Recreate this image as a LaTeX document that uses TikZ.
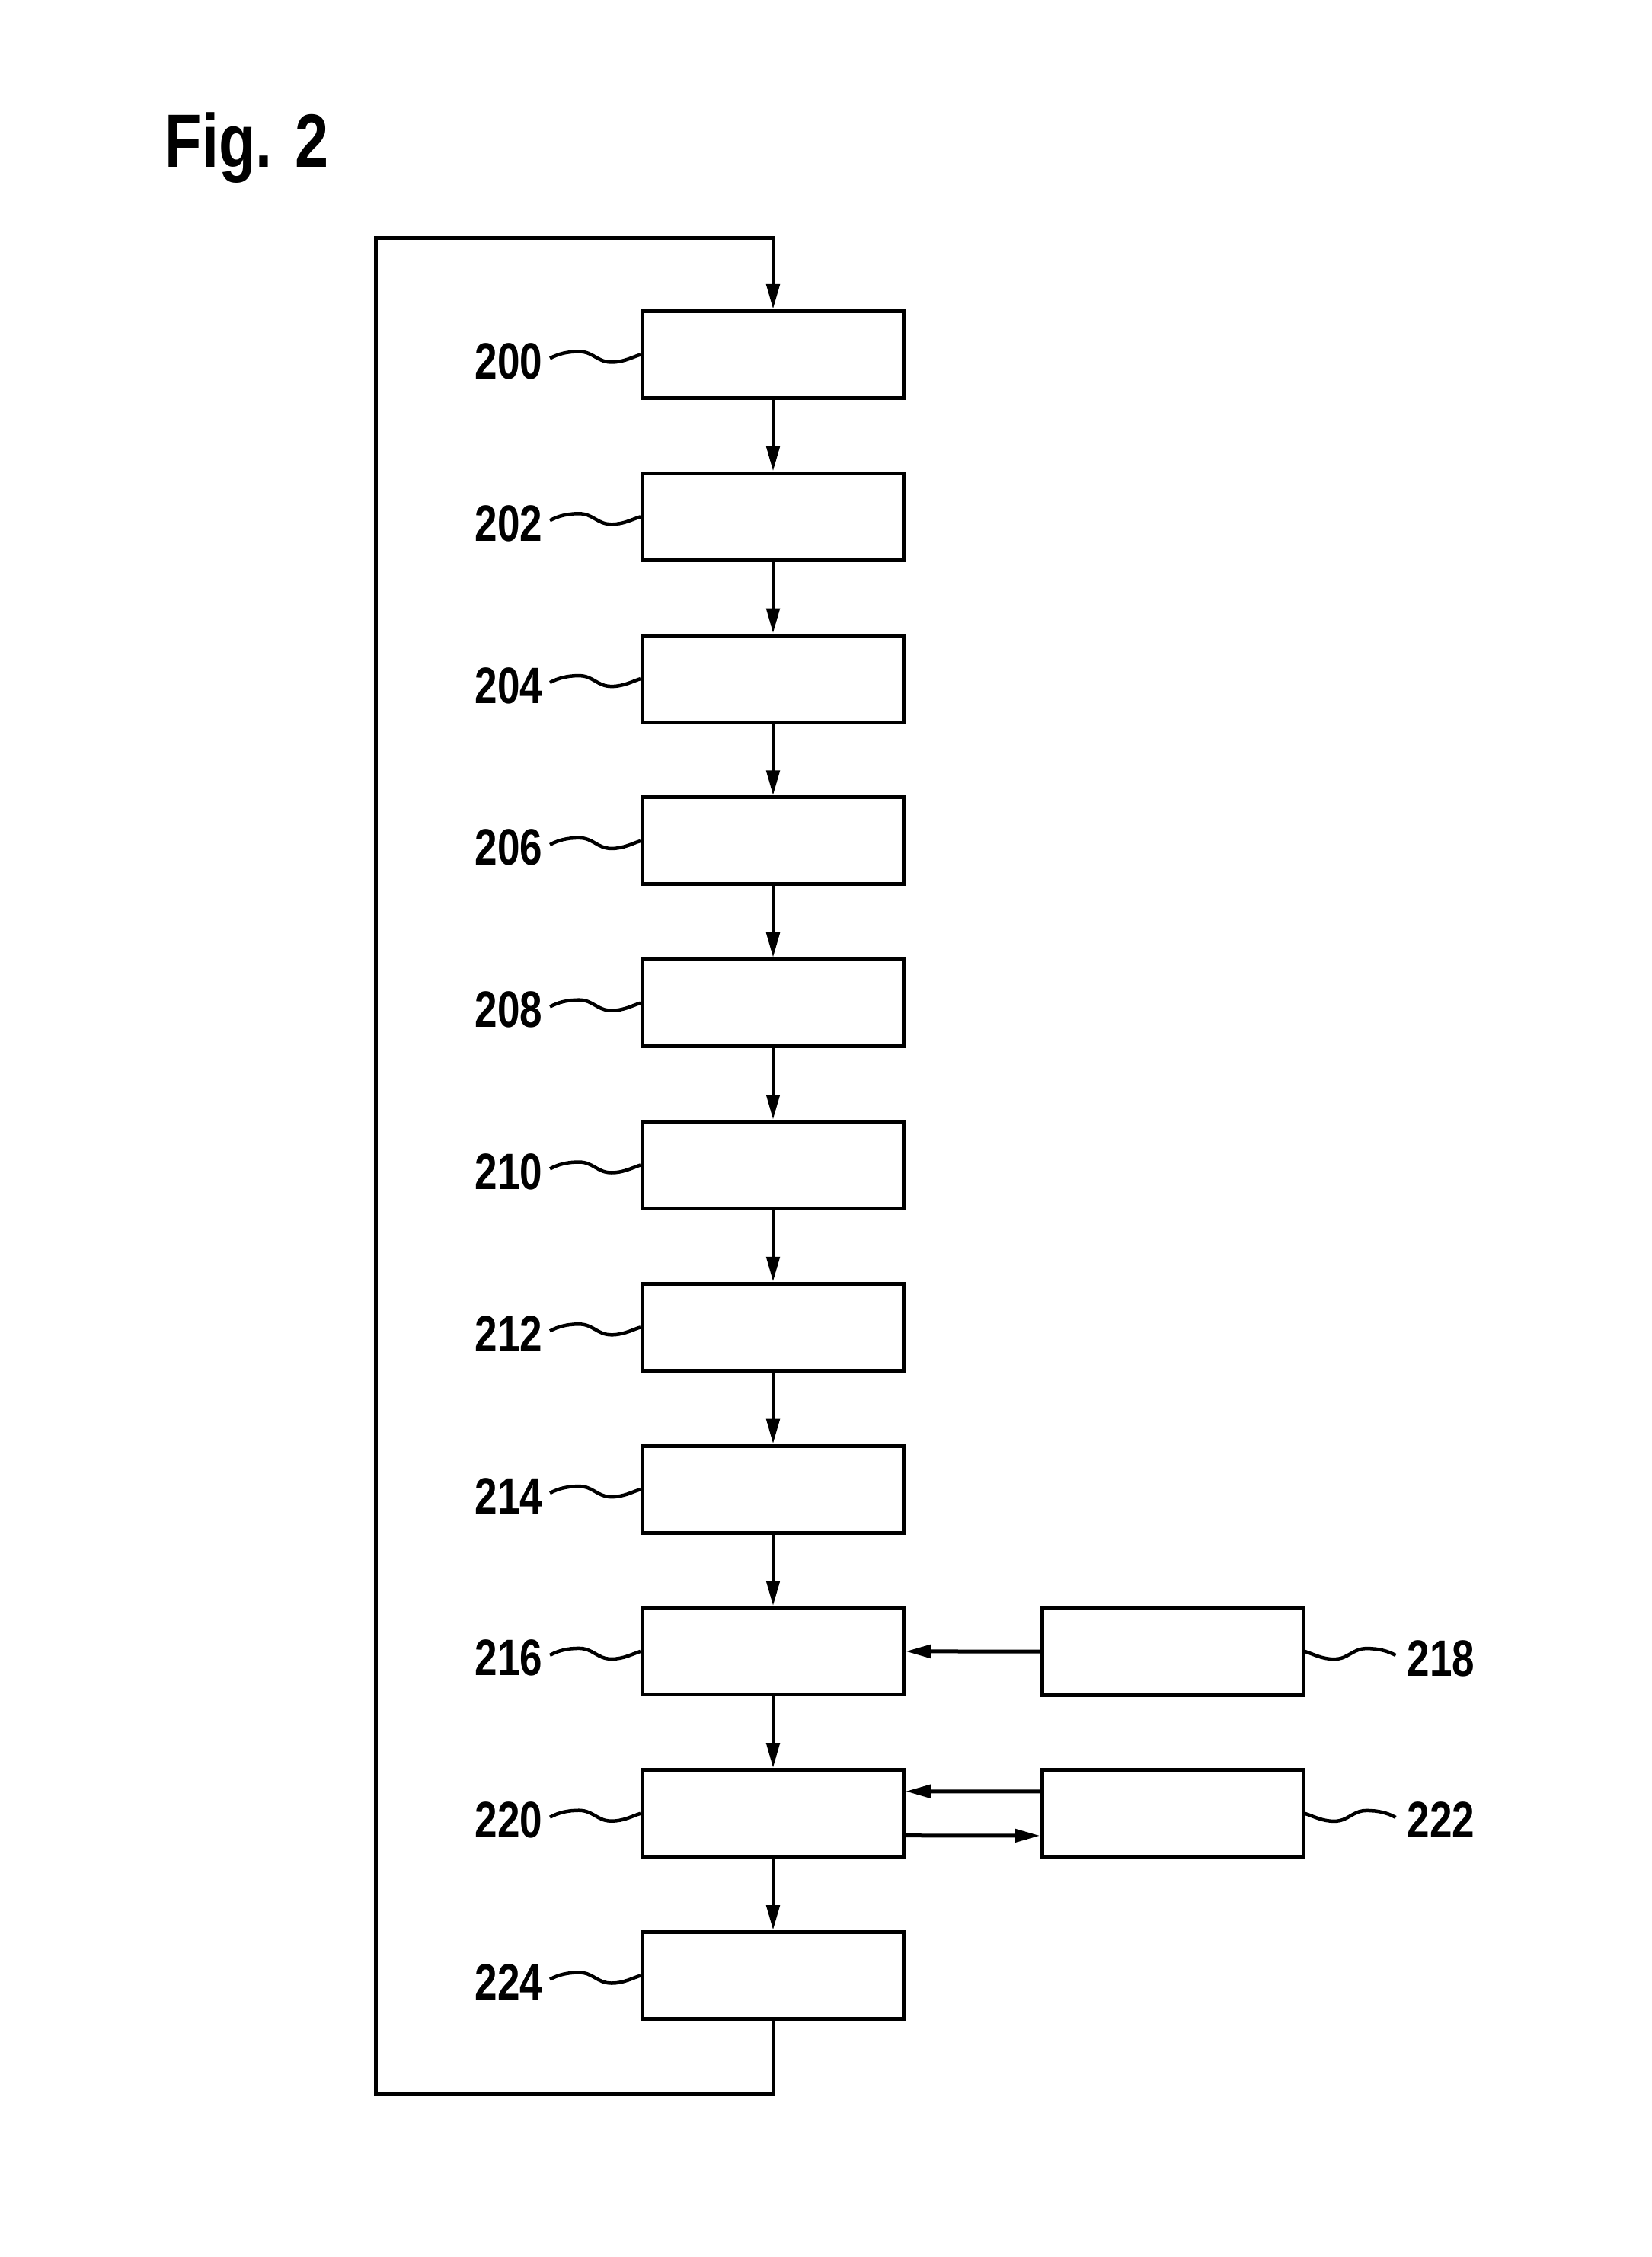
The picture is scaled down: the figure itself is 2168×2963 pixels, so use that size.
\documentclass[tikz,border=0pt]{standalone}
\usepackage{fontspec}
\setmainfont{Liberation Sans}
\newfontfamily\labfont[FakeStretch=0.79]{Liberation Sans}
\newfontfamily\figfont[FakeStretch=0.80]{Liberation Sans}
\usetikzlibrary{arrows.meta}
\begin{document}
\begin{tikzpicture}[x=0.1mm,y=-0.1mm,
  box/.style={draw,line width=0.5mm,minimum width=34.3mm,minimum height=11.4mm,inner sep=0},
  conn/.style={line width=0.5mm,-{Triangle[length=3.3mm,width=1.7mm]}},
  loopline/.style={line width=0.5mm},
  wave/.style={line width=0.45mm},
  lab/.style={font=\labfont\bfseries\fontsize{19.1pt}{20pt}\selectfont,inner sep=0},
  title/.style={font=\figfont\bfseries\fontsize{28.2pt}{30pt}\selectfont,inner sep=0}]
\useasboundingbox (0,0) rectangle (2168,2963);
\node[title,anchor=base west] (fig) at (216,220) {Fig. 2};
% main column
\foreach \i/\n in {0/200,1/202,2/204,3/206,4/208,5/210,6/212,7/214,8/216,9/220,10/224}{
  \node[box] (b\n) at (1015,{465.5+212.8*\i}) {};
  \node[lab,anchor=base east] (l\n) at (713,{497.5+212.8*\i}) {\n};
  \draw[wave] ([shift={(-119,5)}]b\n.west)
    .. controls ([shift={(-108,-1)}]b\n.west) and ([shift={(-96,-4)}]b\n.west) .. ([shift={(-81,-4)}]b\n.west)
    .. controls ([shift={(-62,-4)}]b\n.west) and ([shift={(-57,10)}]b\n.west) .. ([shift={(-38,10)}]b\n.west)
    .. controls ([shift={(-22,10)}]b\n.west) and ([shift={(-10,3)}]b\n.west) .. (b\n.west);
}
% side boxes
\foreach \n/\yy in {218/2168.1,222/2380.9}{
  \node[box] (b\n) at (1539.5,\yy) {};
  \node[lab,anchor=base west] (l\n) at (1847,{\yy+32}) {\n};
  \draw[wave] (b\n.east)
    .. controls ([shift={(10,3)}]b\n.east) and ([shift={(22,10)}]b\n.east) .. ([shift={(38,10)}]b\n.east)
    .. controls ([shift={(57,10)}]b\n.east) and ([shift={(62,-4)}]b\n.east) .. ([shift={(81,-4)}]b\n.east)
    .. controls ([shift={(96,-4)}]b\n.east) and ([shift={(108,-1)}]b\n.east) .. ([shift={(119,5)}]b\n.east);
}
% vertical flow
\foreach \a/\b in {200/202,202/204,204/206,206/208,208/210,210/212,212/214,214/216,216/220,220/224}{
  \draw[conn] (b\a.south) -- (b\b.north);
}
% side connections
\draw[conn] (b218.west) -- (b216.east);
\draw[conn] ([shift={(0,-29)}]b222.west) -- ([shift={(0,-29)}]b220.east);
\draw[conn] ([shift={(0,29)}]b220.east) -- ([shift={(0,29)}]b222.west);
% feedback loop
\coordinate (lb) at (493,2748);
\coordinate (lt) at (493,313);
\draw[conn] (b224.south) |- (lb) -- (lt) -| (b200.north);
\end{tikzpicture}
\end{document}
